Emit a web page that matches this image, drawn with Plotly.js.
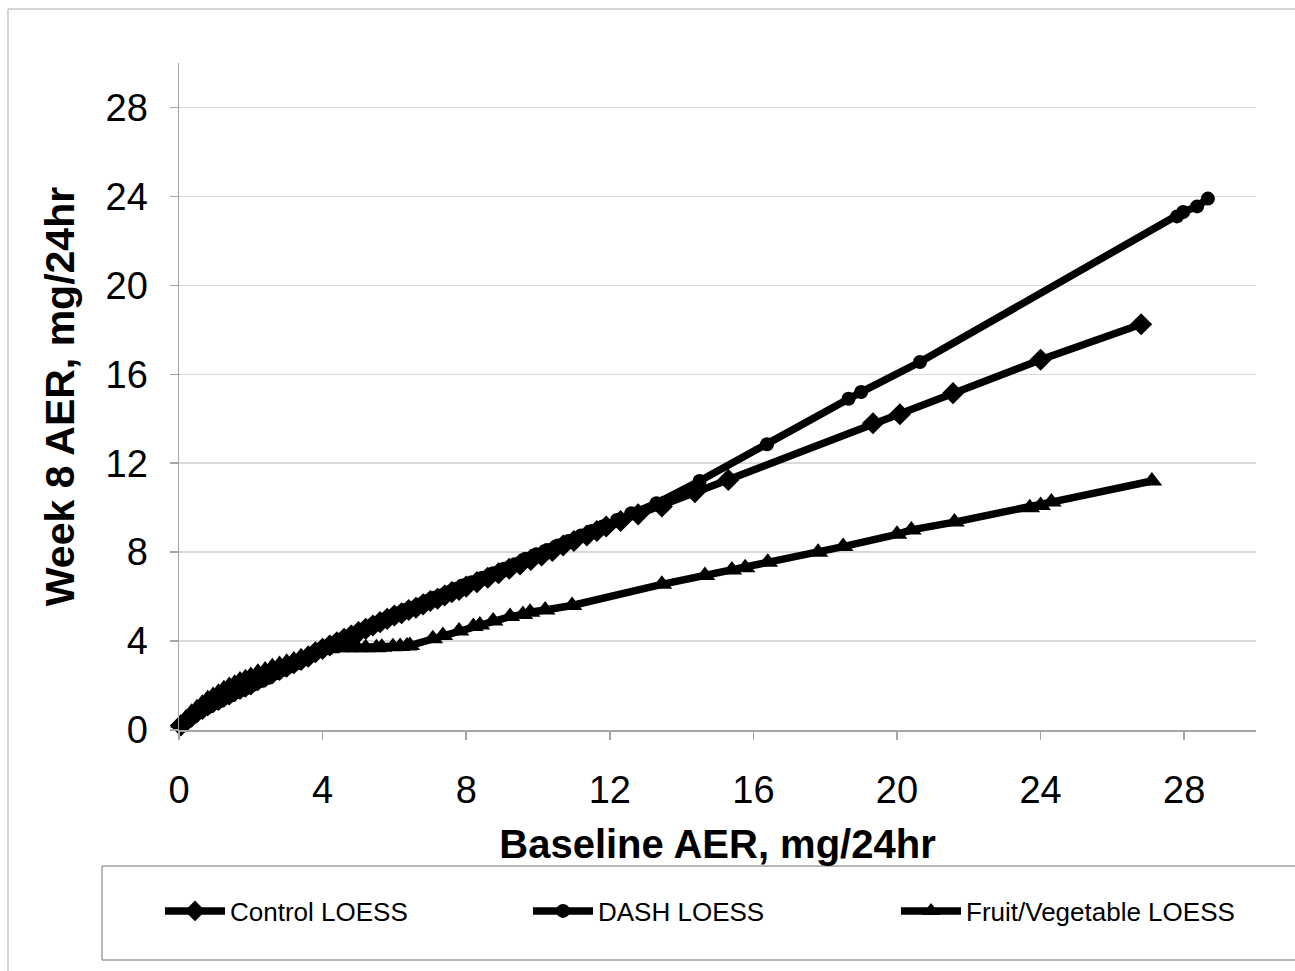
<!DOCTYPE html>
<html>
<head>
<meta charset="utf-8">
<script src="https://cdn.plot.ly/plotly-3.0.1.min.js"></script>
<style>html,body{margin:0;padding:0;background:#fff;}#chart{width:1295px;height:971px;}</style>
</head>
<body>
<div id="chart"></div>
<script>
// ---- Data ----
const seriesNames = ["Control LOESS", "DASH LOESS", "Fruit/Vegetable LOESS"];

const controlX = [0.05,0.2,0.35,0.5,0.65,0.8,0.95,1.1,1.25,1.4,1.55,1.7,1.85,2.0,2.2,2.4,2.6,2.8,3.0,3.2,3.4,3.6,3.8,4.0,4.2,4.4,4.6,4.8,5.0,5.2,5.4,5.6,5.8,6.0,6.2,6.4,6.6,6.8,7.0,7.2,7.4,7.6,7.8,8.0,8.3,8.6,8.9,9.2,9.5,9.8,10.1,10.4,10.7,11.0,11.36,11.64,11.9,12.3,12.79,13.45,14.37,15.3,19.33,20.08,21.56,24.0,26.8];
const controlY = [0.2,0.4,0.6,0.8,0.95,1.1,1.25,1.35,1.5,1.6,1.75,1.85,1.95,2.05,2.25,2.4,2.55,2.7,2.85,3.0,3.15,3.3,3.5,3.65,3.8,3.95,4.1,4.25,4.4,4.55,4.7,4.85,5.0,5.15,5.25,5.4,5.5,5.65,5.8,5.9,6.05,6.2,6.3,6.45,6.65,6.85,7.05,7.25,7.45,7.65,7.85,8.05,8.3,8.5,8.75,8.95,9.15,9.4,9.7,10.05,10.7,11.25,13.8,14.2,15.15,16.65,18.25];

const dashX = [0.1,0.25,0.4,0.55,0.7,0.85,1.0,1.15,1.3,1.45,1.6,1.75,1.9,2.1,2.3,2.5,2.7,2.9,3.1,3.3,3.5,3.7,3.9,4.1,4.3,4.5,4.7,4.9,5.1,5.3,5.5,5.7,5.9,6.1,6.3,6.5,6.7,6.9,7.1,7.3,7.5,7.7,7.9,8.15,8.45,8.75,9.05,9.35,9.65,9.95,10.25,10.55,10.85,11.2,11.5,11.8,12.2,12.6,13.3,14.5,16.38,18.65,19.0,20.64,27.8,27.97,28.36,28.66];
const dashY = [0.25,0.45,0.6,0.8,0.95,1.05,1.2,1.3,1.45,1.55,1.7,1.8,1.9,2.05,2.2,2.35,2.55,2.7,2.85,3.0,3.2,3.35,3.55,3.75,3.9,4.05,4.2,4.35,4.5,4.65,4.8,4.95,5.1,5.25,5.4,5.5,5.65,5.8,5.95,6.05,6.2,6.35,6.5,6.65,6.85,7.05,7.25,7.45,7.7,7.9,8.1,8.3,8.5,8.75,8.95,9.15,9.45,9.75,10.2,11.2,12.85,14.9,15.2,16.55,23.1,23.3,23.55,23.9];

const fvX = [0.05,0.2,0.35,0.5,0.65,0.8,0.95,1.1,1.25,1.4,1.55,1.7,1.85,2.0,2.2,2.4,2.6,2.8,3.0,3.2,3.4,3.6,3.8,4.0,4.2,4.45,4.7,4.96,5.2,5.5,5.65,5.96,6.16,6.35,6.43,7.07,7.35,7.8,8.2,8.38,8.75,9.22,9.58,9.78,10.2,10.95,13.45,14.65,15.4,15.77,16.4,17.8,18.5,20.0,20.4,21.6,23.7,24.0,24.3,27.1];
const fvY = [0.3,0.55,0.8,1.0,1.2,1.4,1.55,1.7,1.85,2.0,2.1,2.25,2.35,2.45,2.6,2.7,2.85,2.95,3.05,3.15,3.3,3.4,3.5,3.6,3.65,3.7,3.7,3.7,3.7,3.7,3.72,3.74,3.76,3.78,3.8,4.1,4.25,4.45,4.65,4.72,4.9,5.1,5.2,5.3,5.4,5.6,6.55,6.95,7.2,7.3,7.55,8.0,8.25,8.8,9.0,9.35,10.0,10.1,10.25,11.2];

const xTitle = "Baseline AER, mg/24hr";
const yTitle = "Week 8 AER, mg/24hr";

// ---- Layout helpers (pixel -> paper) ----
const L = 179, R = 1256, T = 63, B = 730;
const px = v => (v - L) / (R - L);
const py = v => (B - v) / (B - T);

const FONT = "Liberation Sans, Arial, sans-serif";

function trace(x, y, name, symbol, size) {
  return {
    type: "scatter", mode: "lines+markers", x: x, y: y, name: name,
    line: {color: "#000", width: 7.5},
    marker: {symbol: symbol, size: size, color: "#000"},
    cliponaxis: false
  };
}

const data = [
  trace(controlX, controlY, seriesNames[0], "diamond", 17),
  trace(dashX, dashY, seriesNames[1], "circle", 14),
  trace(fvX, fvY, seriesNames[2], "triangle-up", 18)
];

const borderColor = "#c8c8c8";
const layout = {
  width: 1295, height: 971,
  margin: {l: L, r: 1295 - R, t: T, b: 971 - B, pad: 0},
  paper_bgcolor: "#fff", plot_bgcolor: "#fff",
  showlegend: true,
  font: {family: FONT, color: "#000"},
  xaxis: {
    range: [0, 30], tick0: 0, dtick: 4, showgrid: false, zeroline: false,
    showline: true, linecolor: "#a6a6a6", linewidth: 1.5,
    ticks: "outside", ticklen: 8, tickcolor: "#a6a6a6", tickwidth: 1.5,
    ticklabelstandoff: 18,
    tickfont: {family: FONT, size: 38, color: "#000"},
    title: {text: xTitle, font: {family: FONT, size: 40, color: "#000", weight: "bold"}, standoff: 20},
    fixedrange: true
  },
  yaxis: {
    range: [0, 30], tick0: 0, dtick: 4, showgrid: true, gridcolor: "#d9d9d9", gridwidth: 1.5,
    zeroline: false, showline: true, linecolor: "#a6a6a6", linewidth: 1.5,
    ticks: "outside", ticklen: 8, tickcolor: "#a6a6a6", tickwidth: 1.5,
    ticklabelstandoff: 14,
    tickfont: {family: FONT, size: 38, color: "#000"},
    title: {text: yTitle, font: {family: FONT, size: 41, color: "#000", weight: "bold"}, standoff: 18},
    fixedrange: true
  },
  legend: {
    orientation: "h", x: px(160), y: py(911), xanchor: "left", yanchor: "middle",
    font: {family: FONT, size: 26, color: "#000"},
    itemwidth: 60, entrywidth: 293, entrywidthmode: "pixels",
    bgcolor: "rgba(0,0,0,0)", borderwidth: 0, traceorder: "normal"
  },
  shapes: [
    // outer frame (left and top edges visible)
    {type: "line", xref: "paper", yref: "paper", x0: px(8), x1: px(8), y0: py(9), y1: py(975), line: {color: borderColor, width: 1.5}},
    {type: "line", xref: "paper", yref: "paper", x0: px(8), x1: px(1300), y0: py(9), y1: py(9), line: {color: borderColor, width: 1.5}},
    // legend box
    {type: "line", xref: "paper", yref: "paper", x0: px(102), x1: px(1300), y0: py(866), y1: py(866), line: {color: "#a0a0a0", width: 1.5}},
    {type: "line", xref: "paper", yref: "paper", x0: px(102), x1: px(102), y0: py(866), y1: py(960), line: {color: "#a0a0a0", width: 1.5}},
    {type: "line", xref: "paper", yref: "paper", x0: px(102), x1: px(1300), y0: py(960), y1: py(960), line: {color: "#a0a0a0", width: 1.5}}
  ]
};

Plotly.newPlot("chart", data, layout, {displayModeBar: false, staticPlot: true});
</script>
</body>
</html>
